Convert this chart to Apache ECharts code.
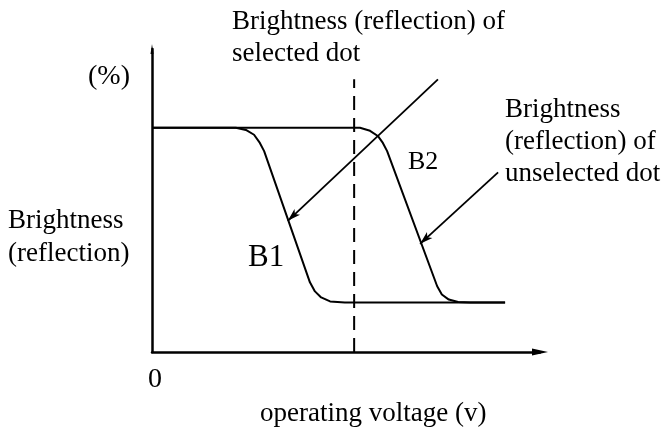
<!DOCTYPE html>
<html>
<head>
<meta charset="utf-8">
<script src="https://cdn.jsdelivr.net/npm/echarts@6/dist/echarts.min.js"></script>
<style>
  html, body { margin: 0; padding: 0; background: #fff; }
  #chart { width: 665px; height: 432px; }
</style>
</head>
<body>
<div id="chart"></div>
<script>
// curve values: voltage (0-100) vs brightness % (0-100)
const B1_V = [0, 21.6, 24.2, 26.3, 27.8, 28.9, 40.7, 42.0, 43.6, 45.9, 49.7, 91.0]
const B1_B = [74.0, 74.0, 73.3, 71.7, 69.0, 66.3, 23.0, 20.0, 18.0, 16.7, 16.3, 16.3]
const B2_V = [0, 53.6, 56.2, 58.2, 59.5, 60.6, 73.5, 74.7, 76.5, 78.9, 82.0, 91.0]
const B2_B = [74.0, 74.0, 73.0, 71.3, 69.0, 66.3, 21.7, 19.0, 17.3, 16.5, 16.3, 16.3]
const SELECT_V = [52.1, 52.1]
const SELECT_B = [0, 90]
// annotation arrows [from, to]
const ARROW_SEL = [[73.7, 90.0], [35.0, 43.3]]
const ARROW_UNSEL = [[89.2, 59.3], [69.1, 35.7]]

const FONT = '"Liberation Serif", "Times New Roman", serif'
const zip = (a, b) => a.map((v, i) => [v, b[i]])

const txt = (text, x, y, size) => ({
  type: 'text', x, y,
  style: { text, fill: '#000', font: `${size}px ${FONT}`, textAlign: 'left', textVerticalAlign: 'middle' },
})

const chart = echarts.init(document.getElementById('chart'), null, { renderer: 'canvas' })
const arrowLine = {
  silent: true, symbol: ['none', 'arrow'], symbolSize: [6, 13],
  label: { show: false },
  lineStyle: { color: '#000', width: 1.8, type: 'solid' },
}
chart.setOption({
  animation: false,
  backgroundColor: '#fff',
  grid: { left: 152, right: 125, top: 49, bottom: 80 },
  xAxis: {
    type: 'value', min: 0, max: 100,
    axisLine: { onZero: false, symbol: ['none', 'triangle'], symbolSize: [7, 16], lineStyle: { color: '#000', width: 2.5 } },
    axisTick: { show: false }, axisLabel: { show: false }, splitLine: { show: false },
  },
  yAxis: {
    type: 'value', min: 0, max: 100,
    axisLine: { onZero: false, symbol: ['none', 'triangle'], symbolSize: [3, 10], lineStyle: { color: '#000', width: 2.5 } },
    axisTick: { show: false }, axisLabel: { show: false }, splitLine: { show: false },
  },
  series: [
    {
      name: 'B1', type: 'line', data: zip(B1_V, B1_B), symbol: 'none',
      lineStyle: { color: '#000', width: 2 },
      markLine: { ...arrowLine, data: [[{ coord: ARROW_SEL[0] }, { coord: ARROW_SEL[1] }]] },
    },
    {
      name: 'B2', type: 'line', data: zip(B2_V, B2_B), symbol: 'none',
      lineStyle: { color: '#000', width: 2 },
      markLine: { ...arrowLine, data: [[{ coord: ARROW_UNSEL[0] }, { coord: ARROW_UNSEL[1] }]] },
    },
    {
      name: 'selected', type: 'line', data: zip(SELECT_V, SELECT_B), symbol: 'none',
      lineStyle: { color: '#000', width: 2, type: [14, 8] },
    },
  ],
  graphic: [
    txt('Brightness (reflection) of', 232, 22, 27),
    txt('selected dot', 232, 54, 27),
    txt('(%)', 88, 77, 28),
    txt('Brightness', 8, 221, 27),
    txt('(reflection)', 8, 254, 27),
    txt('Brightness', 505, 110, 27),
    txt('(reflection) of', 505, 142, 27),
    txt('unselected dot', 505, 174, 27),
    txt('B1', 248, 258, 31),
    txt('B2', 408, 162, 26),
    txt('0', 148, 380, 28),
    txt('operating voltage (v)', 260, 414, 27),
  ],
})
</script>
</body>
</html>
